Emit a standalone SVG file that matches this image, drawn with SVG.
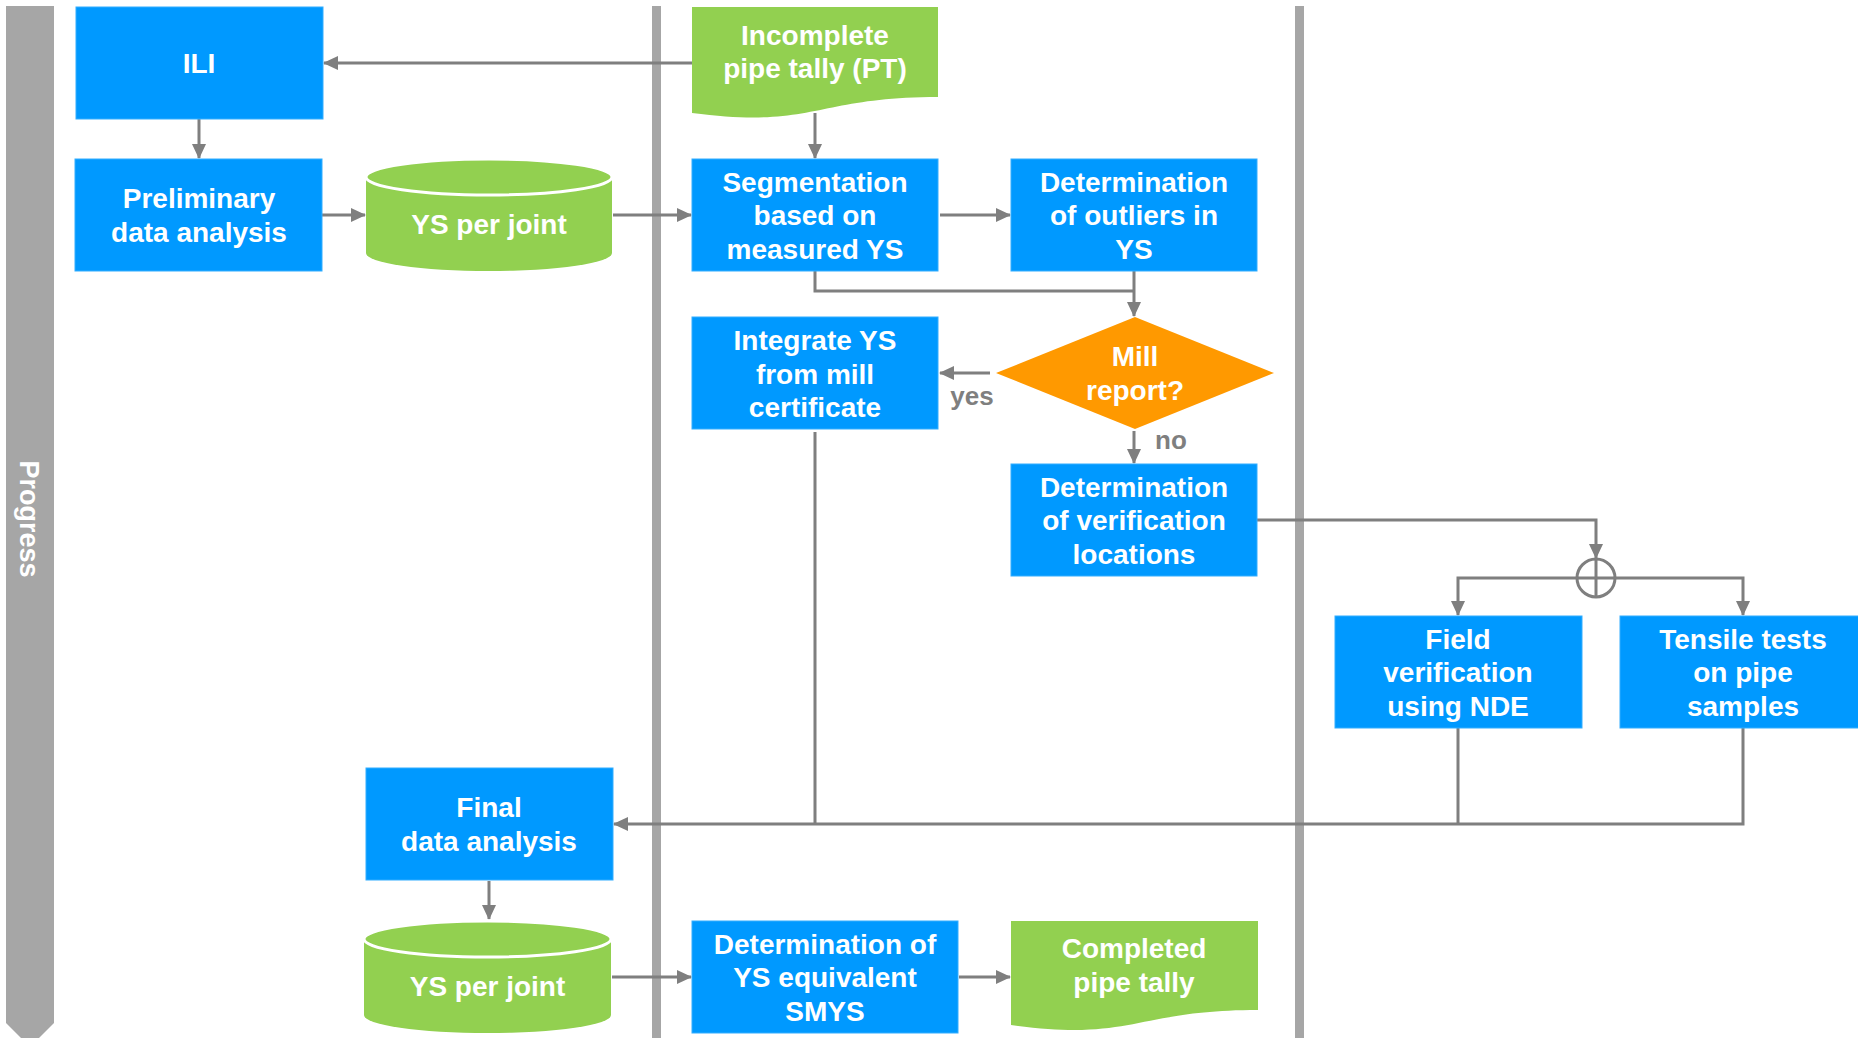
<svg xmlns="http://www.w3.org/2000/svg" width="1858" height="1038" viewBox="0 0 1858 1038">
<style>
.box{fill:#0099ff;stroke:#33adff;stroke-width:1}
.doc{fill:#92d050}
.cyl{fill:#92d050}
.rim{fill:#92d050;stroke:#ffffff;stroke-width:3}
.dec{fill:#ff9900}
.t{font-family:"Liberation Sans",Arial,sans-serif;font-weight:bold;font-size:28px;fill:#ffffff;text-anchor:middle}
.lbl{font-family:"Liberation Sans",Arial,sans-serif;font-weight:bold;font-size:26px;fill:#7f7f7f;text-anchor:middle}
.c{fill:none;stroke:#7f7f7f;stroke-width:3}
.ca{fill:none;stroke:#7f7f7f;stroke-width:3;marker-end:url(#ah)}
.lane{fill:#a6a6a6}
</style>
<defs>
<marker id="ah" markerWidth="15" markerHeight="14" refX="14" refY="7" orient="auto" markerUnits="userSpaceOnUse">
<path d="M0,0 L15,7 L0,14 Z" fill="#7f7f7f"/>
</marker>
</defs>
<rect width="1858" height="1038" fill="#ffffff"/>
<g id="lanes">
<polygon class="lane" points="6,6 54,6 54,1023 30,1047 6,1023"/>
<text class="t" font-size="27" transform="translate(30,519) rotate(90)" x="0" y="10" style="font-size:27px">Progress</text>
<rect class="lane" x="652" y="6" width="9" height="1032"/>
<rect class="lane" x="1295" y="6" width="9" height="1032"/>
</g>
<g id="connectors">
<line class="ca" x1="692" y1="63" x2="324" y2="63"/>
<line class="ca" x1="199" y1="119" x2="199" y2="158"/>
<line class="ca" x1="322" y1="215" x2="365" y2="215"/>
<line class="ca" x1="613" y1="215" x2="691" y2="215"/>
<line class="ca" x1="815" y1="113" x2="815" y2="158"/>
<line class="ca" x1="940" y1="215" x2="1010" y2="215"/>
<polyline class="c" points="815,271 815,291 1134,291"/>
<line class="ca" x1="1134" y1="271" x2="1134" y2="316"/>
<line class="ca" x1="990" y1="373" x2="940" y2="373"/>
<line class="ca" x1="1134" y1="431" x2="1134" y2="463"/>
<polyline class="ca" points="1257,520 1596,520 1596,558"/>
<circle cx="1596" cy="578" r="19" fill="#ffffff" stroke="#7f7f7f" stroke-width="3"/>
<line class="c" x1="1596" y1="559" x2="1596" y2="597"/>
<polyline class="ca" points="1577,578 1458,578 1458,615"/>
<polyline class="ca" points="1615,578 1743,578 1743,615"/>
<line class="c" x1="1577" y1="578" x2="1615" y2="578"/>
<line class="c" x1="815" y1="432" x2="815" y2="824"/>
<line class="c" x1="1458" y1="728" x2="1458" y2="824"/>
<polyline class="ca" points="1743,728 1743,824 614,824"/>
<line class="ca" x1="489" y1="881" x2="489" y2="919"/>
<line class="ca" x1="612" y1="977" x2="691" y2="977"/>
<line class="ca" x1="959" y1="977" x2="1010" y2="977"/>
</g>
<g id="ili"><rect class="box" x="76" y="7" width="247" height="112"/><text class="t" x="199" y="73">ILI</text></g>
<g id="prelim"><rect class="box" x="75" y="159" width="247" height="112"/><text class="t" x="199" y="208">Preliminary</text><text class="t" x="199" y="242">data analysis</text></g>
<g id="ys1">
<path class="cyl" d="M366,177 L366,253 A123,18 0 0 0 612,253 L612,177 Z"/>
<ellipse class="rim" cx="489" cy="177" rx="123" ry="18"/>
<text class="t" x="489" y="234">YS per joint</text>
</g>
<g id="pt">
<path class="doc" d="M692,7 L938,7 L938,97 C815,97 815,129 692,113 Z"/>
<text class="t" x="815" y="45">Incomplete</text><text class="t" x="815" y="78">pipe tally (PT)</text>
</g>
<g id="seg"><rect class="box" x="692" y="159" width="246" height="112"/><text class="t" x="815" y="192">Segmentation</text><text class="t" x="815" y="225">based on</text><text class="t" x="815" y="259">measured YS</text></g>
<g id="outliers"><rect class="box" x="1011" y="159" width="246" height="112"/><text class="t" x="1134" y="192">Determination</text><text class="t" x="1134" y="225">of outliers in</text><text class="t" x="1134" y="259">YS</text></g>
<g id="integrate"><rect class="box" x="692" y="317" width="246" height="112"/><text class="t" x="815" y="350">Integrate YS</text><text class="t" x="815" y="384">from mill</text><text class="t" x="815" y="417">certificate</text></g>
<g id="mill"><polygon class="dec" points="996,373 1135,317 1274,373 1135,429"/><text class="t" x="1135" y="366">Mill</text><text class="t" x="1135" y="400">report?</text></g>
<text class="lbl" x="972" y="405">yes</text>
<text class="lbl" x="1171" y="449">no</text>
<g id="verif"><rect class="box" x="1011" y="464" width="246" height="112"/><text class="t" x="1134" y="497">Determination</text><text class="t" x="1134" y="530">of verification</text><text class="t" x="1134" y="564">locations</text></g>
<g id="field"><rect class="box" x="1335" y="616" width="247" height="112"/><text class="t" x="1458" y="649">Field</text><text class="t" x="1458" y="682">verification</text><text class="t" x="1458" y="716">using NDE</text></g>
<g id="tensile"><rect class="box" x="1620" y="616" width="246" height="112"/><text class="t" x="1743" y="649">Tensile tests</text><text class="t" x="1743" y="682">on pipe</text><text class="t" x="1743" y="716">samples</text></g>
<g id="final"><rect class="box" x="366" y="768" width="247" height="112"/><text class="t" x="489" y="817">Final</text><text class="t" x="489" y="851">data analysis</text></g>
<g id="ys2">
<path class="cyl" d="M364,939 L364,1015 A123.5,18 0 0 0 611,1015 L611,939 Z"/>
<ellipse class="rim" cx="487.5" cy="939" rx="123.5" ry="18"/>
<text class="t" x="487.5" y="996">YS per joint</text>
</g>
<g id="smys"><rect class="box" x="692" y="921" width="266" height="112"/><text class="t" x="825" y="954">Determination of</text><text class="t" x="825" y="987">YS equivalent</text><text class="t" x="825" y="1021">SMYS</text></g>
<g id="completed">
<path class="doc" d="M1011,921 L1258,921 L1258,1010 C1134,1010 1134,1042 1011,1025 Z"/>
<text class="t" x="1134" y="958">Completed</text><text class="t" x="1134" y="992">pipe tally</text>
</g>
</svg>
